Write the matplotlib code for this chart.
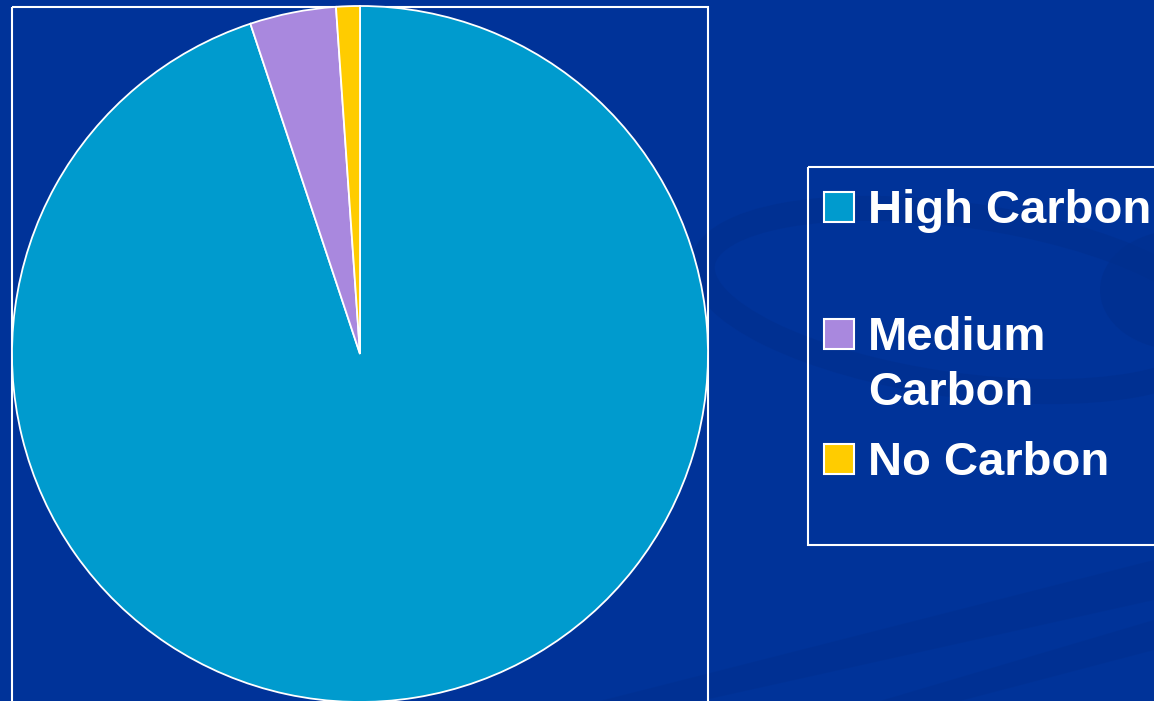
import matplotlib.pyplot as plt
from matplotlib.patches import Rectangle, Ellipse, Polygon

# -----------------------------
# Data
# -----------------------------
labels = ["High Carbon", "Medium Carbon", "No Carbon"]
legend_text = ["High Carbon", "Medium\nCarbon", "No Carbon"]
shares = [94.9, 4.0, 1.1]
colors = ["#009BCE", "#A988DE", "#FFCC00"]

bg = "#003399"
W, H = 1154, 701

fig = plt.figure(figsize=(W / 100, H / 100), dpi=100, facecolor=bg)

# -----------------------------
# Faint background swooshes
# -----------------------------
deco = fig.add_axes([0, 0, 1, 1], zorder=0)
deco.set_xlim(0, W)
deco.set_ylim(H, 0)
deco.axis("off")
deco.add_patch(Ellipse((960, 300), 520, 170, angle=8, fill=False,
                       edgecolor="#002F8E", lw=18, alpha=0.6))
deco.add_patch(Ellipse((1180, 290), 160, 120, angle=0,
                       facecolor="#002F8E", edgecolor="none", alpha=0.6))
deco.add_patch(Polygon([[600, 701], [1154, 560], [1154, 600], [700, 701]],
                       closed=True, facecolor="#002F8E", edgecolor="none", alpha=0.5))
deco.add_patch(Polygon([[880, 701], [1154, 620], [1154, 650], [960, 701]],
                       closed=True, facecolor="#002F8E", edgecolor="none", alpha=0.5))

# -----------------------------
# Plot area box + pie
# -----------------------------
deco.add_patch(Rectangle((12, 7), 696, 720, fill=False, edgecolor="white", lw=1.5))

cx, cy, r = 360, 354, 348
ax = fig.add_axes([(cx - r) / W, 1 - (cy + r) / H, 2 * r / W, 2 * r / H], zorder=1)
ax.pie(shares, colors=colors, startangle=90, counterclock=False,
       wedgeprops=dict(edgecolor="white", linewidth=1.3))
ax.set_aspect("auto")
ax.set_xlim(-1, 1)
ax.set_ylim(-1, 1)
ax.axis("off")

# -----------------------------
# Legend (drawn by hand to mimic the slide)
# -----------------------------
deco.add_patch(Rectangle((808, 167), 360, 378, fill=False, edgecolor="white", lw=1.5))
baselines = [223, 350, 475]
for txt, col, base in zip(legend_text, colors, baselines):
    deco.add_patch(Rectangle((824, base - 31), 30, 30, facecolor=col,
                             edgecolor="white", lw=1.5))
    lines = txt.split("\n")
    for k, line in enumerate(lines):
        deco.text(868, base + 55 * k, line, color="white", fontsize=34,
                  fontweight="bold", family="Liberation Sans", va="baseline", ha="left")

plt.savefig("out.png", dpi=100, facecolor=bg)
